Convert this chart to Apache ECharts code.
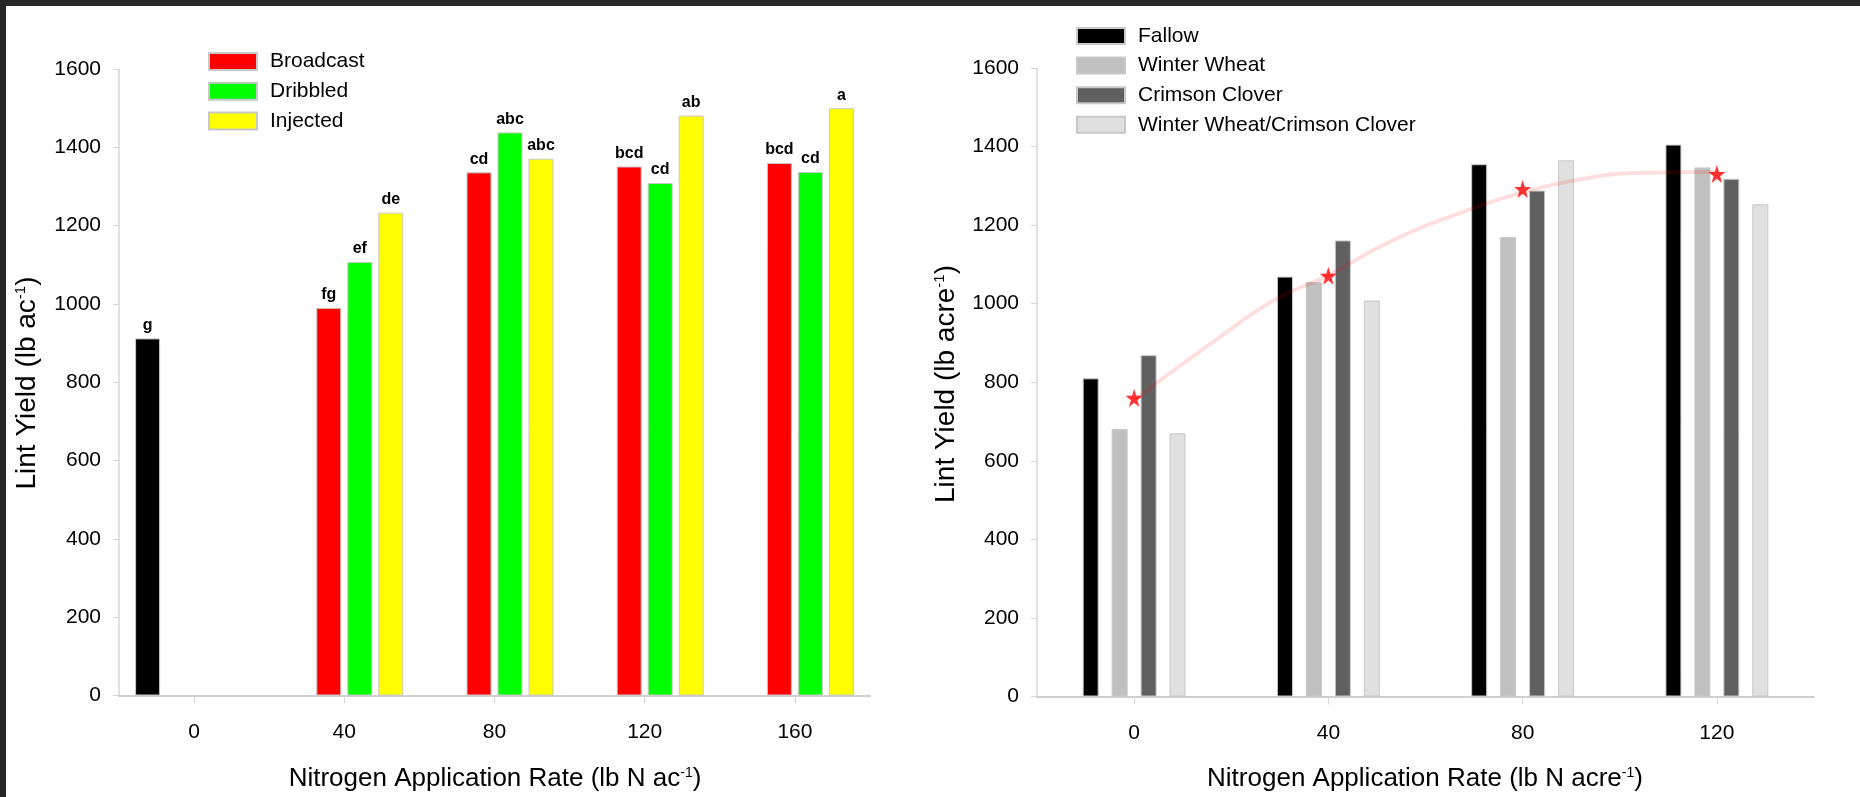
<!DOCTYPE html>
<html>
<head>
<meta charset="utf-8">
<script src="https://cdn.jsdelivr.net/npm/echarts@6/dist/echarts.min.js"></script>
<style>
html,body{margin:0;padding:0;background:#fff;}
#chart{width:1860px;height:797px;}
</style>
</head>
<body>
<div id="chart"></div>
<script>
// ---------- data ----------
const leftCategories = ['0', '40', '80', '120', '160'];
const controlYield   = [912, '-', '-', '-', '-'];
const broadcastYield = ['-', 990, 1336, 1351, 1360];
const dribbledYield  = ['-', 1107, 1438, 1309, 1337];
const injectedYield  = ['-', 1233, 1371, 1481, 1500];
const controlLetters   = ['g', '', '', '', ''];
const broadcastLetters = ['', 'fg', 'cd', 'bcd', 'bcd'];
const dribbledLetters  = ['', 'ef', 'abc', 'cd', 'cd'];
const injectedLetters  = ['', 'de', 'abc', 'ab', 'a'];

const rightCategories = ['0', '40', '80', '120'];
const fallowYield     = [810, 1069, 1355, 1405];
const wheatYield      = [681, 1055, 1170, 1347];
const cloverYield     = [869, 1161, 1288, 1318];
const wheatCloverYield= [670, 1008, 1365, 1253];
const meanStars       = [760, 1071, 1292, 1330];
const curveX          = [0, 16, 29, 40, 53, 70, 80, 90, 104, 120];
const curveY          = [755, 900, 1010, 1072, 1160, 1244, 1283, 1312, 1333, 1335];

const yTicksMin = 0, yTicksMax = 1600, yTickStep = 200;

// ---------- styles ----------
const FONT = 'Arial, "Liberation Sans", Helvetica, sans-serif';
const BORDER = '#c8c8c8';
const starPath = 'path://M50,0 L61.8,35.1 L98.1,35.1 L68.8,56.8 L79.4,91.4 L50,70 L20.6,91.4 L31.2,56.8 L1.9,35.1 L38.2,35.1 Z';

function letterLabel(arr) {
  return {
    show: true, position: 'top', distance: 5,
    fontFamily: FONT, fontWeight: 'bold', fontSize: 16, color: '#000',
    formatter: p => arr[p.dataIndex] || ''
  };
}

function yAxisCfg(grid) {
  return {
    type: 'value', gridIndex: grid, min: yTicksMin, max: yTicksMax, interval: yTickStep,
    axisLine: { show: true, onZero: false, lineStyle: { color: '#d6d6d6', width: 1.5 } },
    axisTick: { show: true, length: 6, lineStyle: { color: '#d6d6d6' } },
    axisLabel: { fontFamily: FONT, fontSize: 21, color: '#000', margin: 18, formatter: v => String(v) },
    splitLine: { show: false }
  };
}
function xAxisCfg(grid, cats) {
  return {
    type: 'category', gridIndex: grid, data: cats, boundaryGap: true,
    axisLine: { show: true, onZero: false, lineStyle: { color: '#d0d0d0', width: 2 } },
    axisTick: { show: true, alignWithLabel: true, length: 8, lineStyle: { color: '#d6d6d6' } },
    axisLabel: { fontFamily: FONT, fontSize: 21, color: '#000', margin: 26 },
    splitLine: { show: false }
  };
}

function bar(name, data, color, xi, yi, width, gap, label) {
  const s = {
    name, type: 'bar', data, xAxisIndex: xi, yAxisIndex: yi,
    barWidth: width, barGap: gap,
    itemStyle: { color, borderColor: BORDER, borderWidth: 1 },
    emphasis: { disabled: true }
  };
  if (label) s.label = label;
  return s;
}

const titleRich = (size) => ({
  t: { fontFamily: FONT, fontSize: size, fill: '#000', color: '#000' },
  s: { fontFamily: FONT, fontSize: Math.round(size * 0.55), fill: '#000', color: '#000', verticalAlign: 'top' }
});

const option = {
  backgroundColor: '#ffffff',
  animation: false,
  grid: [
    { left: 119, top: 69, width: 751, height: 626.5 },
    { left: 1037, top: 68, width: 777, height: 628.5 }
  ],
  legend: [
    {
      data: ['Broadcast', 'Dribbled', 'Injected'],
      orient: 'vertical', left: 203, top: 46, icon: 'rect',
      itemWidth: 48, itemHeight: 17, itemGap: 8.7,
      textStyle: { fontFamily: FONT, fontSize: 21, color: '#000', padding: [0, 0, 0, 8] },
      selectedMode: false
    },
    {
      data: ['Fallow', 'Winter Wheat', 'Crimson Clover', 'Winter Wheat/Crimson Clover'],
      orient: 'vertical', left: 1071, top: 20.5, icon: 'rect',
      itemWidth: 48, itemHeight: 16, itemGap: 8.6,
      textStyle: { fontFamily: FONT, fontSize: 21, color: '#000', padding: [0, 0, 0, 8] },
      selectedMode: false
    }
  ],
  xAxis: [
    xAxisCfg(0, leftCategories),
    xAxisCfg(1, rightCategories),
    { type: 'value', gridIndex: 1, min: -20, max: 140, show: false }
  ],
  yAxis: [ yAxisCfg(0), yAxisCfg(1) ],
  series: [
    bar('Control', controlYield, '#000000', 0, 0, 25, '24%', letterLabel(controlLetters)),
    bar('Broadcast', broadcastYield, '#ff0000', 0, 0, 25, '24%', letterLabel(broadcastLetters)),
    bar('Dribbled', dribbledYield, '#00ff00', 0, 0, 25, '24%', letterLabel(dribbledLetters)),
    bar('Injected', injectedYield, '#ffff00', 0, 0, 25, '24%', letterLabel(injectedLetters)),

    bar('Fallow', fallowYield, '#000000', 1, 1, 16, '81%'),
    bar('Winter Wheat', wheatYield, '#c0c0c0', 1, 1, 16, '81%'),
    bar('Crimson Clover', cloverYield, '#606060', 1, 1, 16, '81%'),
    bar('Winter Wheat/Crimson Clover', wheatCloverYield, '#e0e0e0', 1, 1, 16, '81%'),

    {
      name: 'Fit', type: 'line', xAxisIndex: 2, yAxisIndex: 1,
      data: curveX.map((x, i) => [x, curveY[i]]),
      smooth: true, symbol: 'none', z: 5,
      lineStyle: { color: 'rgba(255,0,0,0.13)', width: 4 },
      emphasis: { disabled: true }
    },
    {
      name: 'Mean', type: 'scatter', xAxisIndex: 1, yAxisIndex: 1,
      data: meanStars, symbol: starPath, symbolSize: [17, 18], z: 6,
      itemStyle: { color: '#ff0000' },
      emphasis: { disabled: true }
    }
  ],
  graphic: [
    { type: 'rect', shape: { x: 0, y: 0, width: 1860, height: 6 }, style: { fill: '#2a2a2a' }, z: 100 },
    { type: 'rect', shape: { x: 0, y: 0, width: 6, height: 797 }, style: { fill: '#262626' }, z: 100 },
    {
      type: 'text', x: 27, y: 383, rotation: Math.PI / 2,
      style: { text: '{t|Lint Yield (lb ac}{s|-1}{t|)}', rich: titleRich(28), align: 'center', verticalAlign: 'middle' }
    },
    {
      type: 'text', x: 946, y: 384, rotation: Math.PI / 2,
      style: { text: '{t|Lint Yield (lb acre}{s|-1}{t|)}', rich: titleRich(28), align: 'center', verticalAlign: 'middle' }
    },
    {
      type: 'text', x: 495, y: 779,
      style: { text: '{t|Nitrogen Application Rate (lb N ac}{s|-1}{t|)}', rich: titleRich(26), align: 'center', verticalAlign: 'middle' }
    },
    {
      type: 'text', x: 1425, y: 779,
      style: { text: '{t|Nitrogen Application Rate (lb N acre}{s|-1}{t|)}', rich: titleRich(26), align: 'center', verticalAlign: 'middle' }
    }
  ]
};

const chart = echarts.init(document.getElementById('chart'), null, { renderer: 'canvas' });
chart.setOption(option);
</script>
</body>
</html>
